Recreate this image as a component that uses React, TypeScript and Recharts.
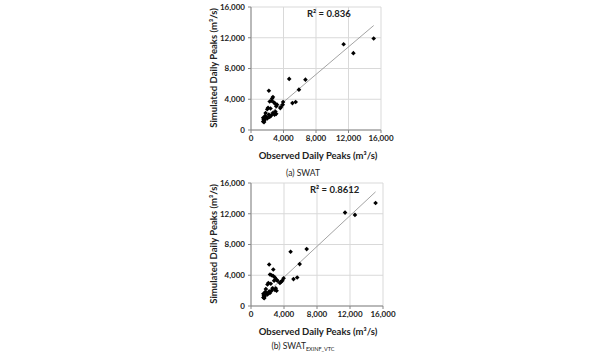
import {
  CartesianGrid,
  ReferenceLine,
  Scatter,
  ScatterChart,
  XAxis,
  YAxis,
} from "recharts";

type Pt = { x: number; y: number };

const axisTicks = [0, 4000, 8000, 12000, 16000];

// (a) SWAT: observed vs simulated daily peaks (m3/s)
const swatObserved = [
  15100, 12600, 11400, 6700, 4700, 5900, 5500, 5100, 2200, 3950, 3900, 3700,
  3600, 2700, 2600, 2500, 2300, 2800, 3000, 3200, 3100, 2100, 2000, 2400, 2700,
  2900, 3100, 3000, 1800, 2200, 1900, 1700, 1600, 1500, 1550, 1650, 1800, 2000,
  1500, 1700, 2300, 2500, 1600,
];
const swatSimulated = [
  11900, 10000, 11150, 6550, 6650, 5250, 3650, 3500, 5100, 3650, 3300, 3000,
  2850, 4300, 4100, 3800, 3700, 3600, 3400, 3300, 3100, 2900, 2700, 2800, 2200,
  2000, 2100, 2400, 2200, 2000, 1700, 1500, 1300, 1100, 1400, 1200, 1600, 1500,
  1600, 1800, 1700, 1900, 1000,
];
const swatTrend = { slope: 0.896, intercept: 60 };
const swatR2 = "0.836";

// (b) SWAT EXINF_VTC
const vtcObserved = [
  15100, 12600, 11400, 6750, 4800, 5900, 5600, 5150, 2200, 2700, 3950, 3800,
  3600, 3500, 2300, 2500, 2700, 2900, 3100, 3200, 2800, 2100, 2000, 2400, 2600,
  2900, 3100, 3000, 1800, 2200, 1900, 1700, 1600, 1500, 1550, 1650, 1800, 2000,
  1500, 1700, 2300, 2500, 1600,
];
const vtcSimulated = [
  13400, 11850, 12150, 7400, 7050, 5450, 3700, 3500, 5400, 4750, 3600, 3300,
  3100, 3000, 4100, 4000, 3900, 3700, 3400, 3300, 3300, 3000, 2800, 2900, 2300,
  2100, 2000, 2300, 2200, 1900, 1700, 1500, 1300, 1100, 1400, 1200, 1600, 1500,
  1600, 1800, 1700, 2000, 1000,
];
const vtcTrend = { slope: 1.0, intercept: -250 };
const vtcR2 = "0.8612";

const FONT = "Lato, 'Open Sans', sans-serif";

function Diamond(props: any) {
  const { cx, cy } = props;
  if (cx == null || cy == null) return null;
  const r = 2.3;
  return (
    <path
      d={`M${cx},${cy - r}L${cx + r},${cy}L${cx},${cy + r}L${cx - r},${cy}Z`}
      fill="#000"
    />
  );
}

type PanelProps = {
  obs: number[];
  sim: number[];
  trend: { slope: number; intercept: number };
  r2: string;
  r2Left: number;
  plotRight: number;
  caption: React.ReactNode;
  captionTop: number;
  top: number;
};

function Panel({
  obs,
  sim,
  trend,
  r2,
  r2Left,
  plotRight,
  caption,
  captionTop,
  top,
}: PanelProps) {
  const data: Pt[] = obs.map((x, i) => ({ x, y: sim[i] }));
  const xMin = Math.min(...obs);
  const xMax = Math.max(...obs);
  const tickStyle = { fontSize: 8, fontWeight: 700, fill: "#222", fontFamily: FONT };
  return (
    <div style={{ position: "absolute", left: 0, top, width: 600, height: 176 }}>
      <ScatterChart
        width={600}
        height={176}
        margin={{ top: 7, left: 211, right: 600 - plotRight, bottom: 26 }}
      >
        <CartesianGrid stroke="#d9d9d9" />
        <XAxis
          type="number"
          dataKey="x"
          domain={[0, 16000]}
          ticks={axisTicks}
          tickFormatter={(v) => v.toLocaleString("en-US")}
          tick={tickStyle}
          tickSize={3}
          tickMargin={2}
          height={20}
          stroke="#868686"
          interval={0}
        />
        <YAxis
          type="number"
          dataKey="y"
          domain={[0, 16000]}
          ticks={axisTicks}
          tickFormatter={(v) => v.toLocaleString("en-US")}
          tick={tickStyle}
          tickSize={3}
          tickMargin={3}
          width={40}
          stroke="#868686"
          interval={0}
        />
        <ReferenceLine
          segment={[
            { x: xMin, y: trend.slope * xMin + trend.intercept },
            { x: xMax, y: trend.slope * xMax + trend.intercept },
          ]}
          stroke="#8c8c8c"
          strokeWidth={0.8}
          ifOverflow="visible"
        />
        <Scatter data={data} shape={<Diamond />} isAnimationActive={false} />
      </ScatterChart>
      <div
        style={{
          position: "absolute",
          left: r2Left,
          top: 8,
          fontFamily: FONT,
          fontWeight: 700,
          fontSize: 9.5,
          color: "#222",
          whiteSpace: "nowrap",
        }}
      >
        R² = {r2}
      </div>
      <div
        style={{
          position: "absolute",
          left: 213,
          top: 68,
          transform: "translate(-50%, -50%) rotate(-90deg)",
          fontFamily: FONT,
          fontWeight: 700,
          fontSize: 9.5,
          color: "#222",
          whiteSpace: "nowrap",
        }}
      >
        Simulated Daily Peaks (m³/s)
      </div>
      <div
        style={{
          position: "absolute",
          left: 318,
          top: 155,
          transform: "translate(-50%, -50%)",
          fontFamily: FONT,
          fontWeight: 700,
          fontSize: 9.5,
          color: "#222",
          whiteSpace: "nowrap",
        }}
      >
        Observed Daily Peaks (m³/s)
      </div>
      <div
        style={{
          position: "absolute",
          left: 303,
          top: captionTop,
          transform: "translate(-50%, -50%)",
          fontFamily: FONT,
          fontSize: 8.5,
          lineHeight: "10px",
          color: "#222",
          whiteSpace: "nowrap",
        }}
      >
        {caption}
      </div>
    </div>
  );
}

export default function App() {
  return (
    <div
      style={{
        position: "absolute",
        left: 0,
        top: 0,
        width: 600,
        height: 352,
        background: "#fff",
        overflow: "hidden",
      }}
    >
      <Panel
        obs={swatObserved}
        sim={swatSimulated}
        trend={swatTrend}
        r2={swatR2}
        r2Left={307}
        plotRight={381}
        caption="(a) SWAT"
        captionTop={173}
        top={0}
      />
      <Panel
        obs={vtcObserved}
        sim={vtcSimulated}
        trend={vtcTrend}
        r2={vtcR2}
        r2Left={310}
        plotRight={383}
        caption={
          <span>
            (b) SWAT
            <span style={{ fontSize: 5.5, position: "relative", top: 1.5 }}>
              EXINF_VTC
            </span>
          </span>
        }
        captionTop={170}
        top={176}
      />
    </div>
  );
}
